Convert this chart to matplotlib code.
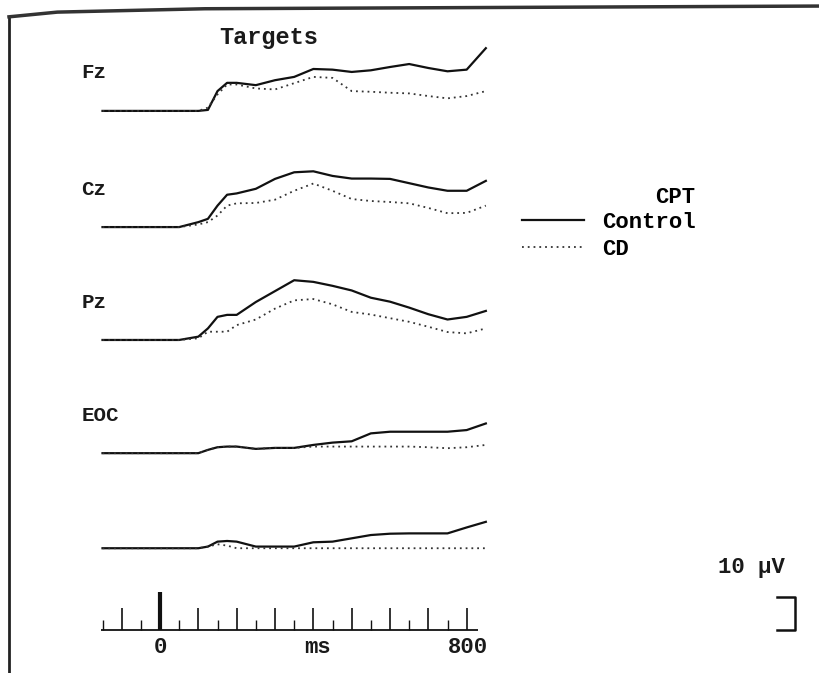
import matplotlib
matplotlib.use("Agg")
import matplotlib.pyplot as plt

# time points (ms) shared by all traces
t = [-150, -100, -50, 0, 50, 100, 125, 150, 175, 200, 250, 300, 350,
     400, 450, 500, 550, 600, 650, 700, 750, 800, 850]

# amplitudes (uV)
fz_control = [0, 0, 0, 0, 0, 0, 0.3, 6, 8.5, 8.5, 7.8, 9.3, 10.3, 12.7, 12.5, 11.8, 12.3, 13.3, 14.2, 13, 12, 12.5, 19]
fz_cd = [0, 0, 0, 0, 0, 0, 1, 5, 8, 8, 6.8, 6.5, 8.4, 10.3, 10, 6, 5.8, 5.5, 5.3, 4.5, 3.8, 4.5, 6]
cz_control = [0, 0, 0, 0, 0, 1.5, 2.5, 6.5, 9.8, 10.2, 11.6, 14.6, 16.6, 16.9, 15.5, 14.7, 14.7, 14.6, 13.3, 12, 11, 11, 14]
cz_cd = [0, 0, 0, 0, 0, 0.8, 1.5, 3.5, 6.5, 7.2, 7.3, 8.3, 11, 13.2, 11, 8.5, 7.9, 7.6, 7.2, 5.8, 4.2, 4.3, 6.5]
pz_control = [0, 0, 0, 0, 0, 1, 3.5, 7, 7.6, 7.6, 11.5, 14.8, 18.1, 17.6, 16.4, 15, 12.8, 11.6, 9.8, 7.8, 6.2, 7, 8.8]
pz_cd = [0, 0, 0, 0, 0, 0.5, 2.5, 2.5, 2.5, 4.5, 6.2, 9.5, 12, 12.4, 10.8, 8.5, 7.7, 6.6, 5.5, 4, 2.4, 2, 3.5]
eog_control = [0, 0, 0, 0, 0, 0, 1, 1.8, 2, 2, 1.3, 1.6, 1.6, 2.5, 3.2, 3.6, 6, 6.5, 6.5, 6.5, 6.5, 7, 9]
eog_cd = [0, 0, 0, 0, 0, 0, 1, 1.8, 2, 2, 1.3, 1.6, 1.6, 2, 2, 2, 2, 2, 2, 1.8, 1.5, 1.8, 2.5]
ch5_control = [0, 0, 0, 0, 0, 0, 0.5, 2, 2.2, 2, 0.5, 0.5, 0.5, 1.8, 2, 3, 4, 4.4, 4.5, 4.5, 4.5, 6.3, 8]
ch5_cd = [0, 0, 0, 0, 0, 0, 0.5, 1.2, 0.8, 0, 0, 0, 0, 0, 0, 0, 0, 0, 0, 0, 0, 0, 0]

channels = ["Fz", "Cz", "Pz", "EOC", ""]
control = [fz_control, cz_control, pz_control, eog_control, ch5_control]
cd = [fz_cd, cz_cd, pz_cd, eog_cd, ch5_cd]

major_ticks = [-100, 0, 100, 200, 300, 400, 500, 600, 700, 800]
minor_ticks = [-150, -50, 50, 150, 250, 350, 450, 550, 650, 750]

# layout: 1 ms = 0.3833 px, 1 uV = 3.3 px
offsets = [170.3, 135.1, 100.9, 66.6, 37.8]
axis_y = 13.0
font = "Liberation Mono"

fig = plt.figure(figsize=(8.19, 6.73), dpi=100)
ax = fig.add_axes([0, 0, 1, 1])
ax.set_xlim(-417.4, 1719.1)
ax.set_ylim(0, 203.9)
ax.axis("off")

for i, name in enumerate(channels):
    off = offsets[i]
    ax.plot(t, [v + off for v in control[i]], color="#111111", lw=1.6,
            label="Control" if i == 0 else None)
    ax.plot(t, [v + off for v in cd[i]], color="#333333", lw=1.3,
            ls=(0, (1, 2.2)), label="CD" if i == 0 else None)
    if name:
        ax.text(-205, off + 11.5, name, fontsize=15, fontweight="bold",
                family=font, ha="left", va="center", color="#1a1a1a")

ax.text(283, 192.4, "Targets", fontsize=17, fontweight="bold", family=font,
        ha="center", va="center", color="#1a1a1a")

# time axis
ax.hlines(axis_y, -155, 830, color="#111111", lw=1.3)
ax.vlines(major_ticks, axis_y, axis_y + 6.7, color="#111111", lw=1.2)
ax.vlines(minor_ticks, axis_y, axis_y + 3.0, color="#111111", lw=1.0)
ax.vlines([0], axis_y, axis_y + 11.5, color="#111111", lw=3.0)
for x, s in [(0, "0"), (410, "ms"), (803, "800")]:
    ax.text(x, 7.6, s, fontsize=16, fontweight="bold", family=font,
            ha="center", va="center", color="#1a1a1a")

# scale bar 10 uV
ax.plot([1609, 1656, 1656, 1609], [axis_y + 10, axis_y + 10, axis_y, axis_y],
        color="#111111", lw=1.8)
ax.text(1544, 32.1, "10 \u00b5V", fontsize=16, fontweight="bold", family=font,
        ha="center", va="center", color="#1a1a1a")

leg = ax.legend(title="CPT", loc="upper left", bbox_to_anchor=(522 / 819, 1 - 187 / 673),
                frameon=False, borderpad=0, borderaxespad=0, handlelength=2.8,
                handletextpad=0.8, labelspacing=0.25, alignment="right",
                prop={"family": font, "weight": "bold", "size": 16},
                title_fontproperties={"family": font, "weight": "bold", "size": 16})
leg._legend_box.sep = 3

# scanned page frame
ax.plot([0.011, 0.011], [0.0, 0.975], transform=ax.transAxes, color="#222222", lw=2)
ax.plot([0.011, 0.07, 0.25, 1.0], [0.975, 0.982, 0.987, 0.991], transform=ax.transAxes,
        color="#333333", lw=2.5)

fig.savefig("out.png", dpi=100, facecolor="white")
